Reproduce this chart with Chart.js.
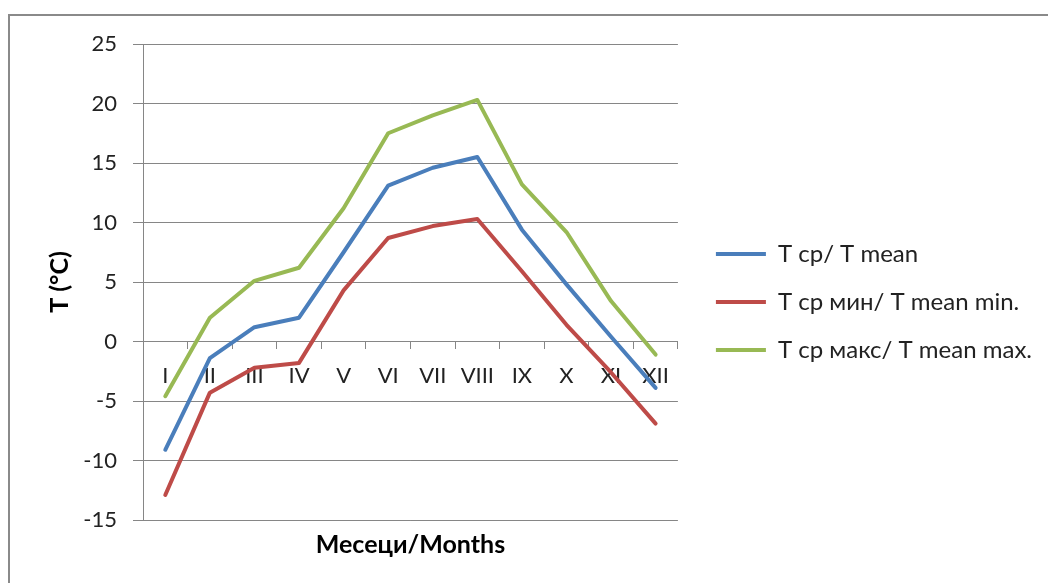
<!DOCTYPE html>
<html>
<head>
<meta charset="utf-8">
<script src="https://cdn.jsdelivr.net/npm/chart.js@4"></script>
<style>
  html, body { margin: 0; padding: 0; background: #fff; }
  #frame { position: absolute; left: 8px; top: 14px; width: 1100px; height: 600px;
           border-left: 2px solid #8a8a8a; border-top: 2px solid #8a8a8a; }
  #wrap { position: absolute; left: 0; top: 0; width: 1048px; height: 583px; }
</style>
</head>
<body>
<div id="frame"></div>
<div id="wrap"><canvas id="myChart" width="1048" height="583"></canvas></div>
<script>
var months = ["I", "II", "III", "IV", "V", "VI", "VII", "VIII", "IX", "X", "XI", "XII"];
var tMean = [-9.1, -1.4, 1.2, 2.0, 7.5, 13.1, 14.6, 15.5, 9.4, 4.8, 0.4, -3.9];
var tMin = [-12.9, -4.3, -2.2, -1.8, 4.3, 8.7, 9.7, 10.3, 5.9, 1.4, -2.6, -6.9];
var tMax = [-4.6, 2.0, 5.1, 6.2, 11.2, 17.5, 19.0, 20.3, 13.2, 9.2, 3.4, -1.1];

var gridColor = "#868686";
var textColor = "#222";
var font = "Lato, 'Open Sans', sans-serif";

function line(label, color, data) {
    return {
        label: label,
        data: data,
        borderColor: color,
        backgroundColor: color,
        borderWidth: 4,
        pointRadius: 0,
        tension: 0,
        borderJoinStyle: "round",
        borderCapStyle: "round"
    };
}

var ctx = document.getElementById("myChart");
var myChart = new Chart(ctx, {
    type: 'line',
    data: {
        labels: months,
        datasets: [
            line("Т ср/ T mean", "#4a7ebb", tMean),
            line("Т ср мин/ T mean min.", "#be4b48", tMin),
            line("Т ср макс/ T mean max.", "#98b954", tMax)
        ]
    },
    options: {
        responsive: false,
        animation: false,
        layout: { padding: { left: 20, top: 44, bottom: 23, right: 6 } },
        scales: {
            x: {
                position: { y: 0 },
                offset: true,
                grid: { display: true, drawOnChartArea: false, offset: true, color: gridColor, tickLength: 7 },
                border: { display: true, color: gridColor },
                ticks: { color: textColor, padding: 14, maxRotation: 0, autoSkip: false,
                         font: { family: font, size: 22 } }
            },
            y: {
                min: -15,
                max: 25,
                ticks: { stepSize: 5, color: textColor, padding: 16, font: { family: font, size: 22 } },
                grid: { color: gridColor, tickLength: 10 },
                border: { display: true, color: gridColor },
                title: { display: true, text: "T (°C)", color: "#000", padding: { top: 25, bottom: 0 },
                         font: { family: font, size: 25, weight: "bold" } },
                afterFit: function (s) { s.width = 123; }
            },
            gap: {
                position: 'right',
                display: true,
                grid: { display: false },
                border: { display: false },
                ticks: { display: false },
                afterFit: function (s) { s.width = 14; }
            }
        },
        plugins: {
            legend: {
                position: 'right',
                maxWidth: 500,
                labels: {
                    usePointStyle: true,
                    pointStyle: 'line',
                    pointStyleWidth: 50,
                    padding: 24,
                    color: textColor,
                    font: { family: font, size: 24 }
                }
            },
            title: {
                display: true,
                position: 'bottom',
                fullSize: false,
                text: "Месеци/Months",
                color: "#000",
                padding: { top: 10, bottom: 0 },
                font: { family: font, size: 25, weight: "bold" }
            },
            tooltip: { enabled: false }
        }
    }
});
</script>
</body>
</html>
